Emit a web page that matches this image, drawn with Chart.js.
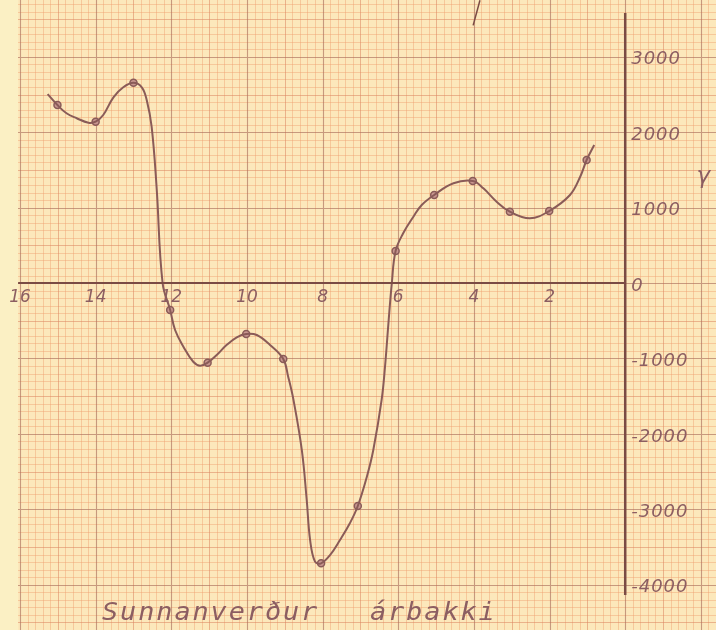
<!DOCTYPE html>
<html><head><meta charset="utf-8">
<script src="https://cdn.jsdelivr.net/npm/chart.js@4.4.1/dist/chart.umd.min.js"></script>
<style>html,body{margin:0;padding:0;background:#fbf0c4;} #c{display:block;}</style>
</head><body>
<canvas id="c" width="716" height="630"></canvas>
<script>
// measured points (distance along bank, gamma), positions as drawn
const pointX = [15.01, 14.0, 13.0, 12.03, 11.04, 10.02, 9.04, 8.04, 7.07, 6.07, 5.05, 4.03, 3.05, 2.01, 1.02];
const pointY = [2360, 2140, 2655, -357, -1056, -675, -1007, -3716, -2956, 425, 1168, 1353, 946, 955, 1632];
// hand-drawn smooth curve
const curveX = [15.27, 15.01, 14.77, 14.5, 14.19, 14.0, 13.8, 13.53, 13.27, 13.0, 12.78, 12.65, 12.52, 12.39, 12.23, 12.03, 11.9, 11.68, 11.42, 11.24, 11.04, 10.8, 10.54, 10.27, 10.02, 9.74, 9.39, 9.04, 8.91, 8.77, 8.55, 8.42, 8.33, 8.2, 8.04, 7.8, 7.54, 7.28, 7.07, 6.83, 6.66, 6.44, 6.35, 6.26, 6.17, 6.07, 5.87, 5.6, 5.38, 5.05, 4.54, 4.03, 3.75, 3.4, 3.05, 2.52, 2.01, 1.46, 1.19, 1.02, 0.82];
const curveY = [2505, 2360, 2251, 2185, 2126, 2140, 2228, 2463, 2596, 2655, 2596, 2427, 2073, 1278, 0, -357, -622, -844, -1043, -1096, -1056, -954, -821, -719, -675, -689, -821, -1007, -1242, -1550, -2213, -2876, -3407, -3694, -3716, -3605, -3407, -3185, -2956, -2567, -2213, -1550, -1109, -534, 0, 425, 660, 880, 1035, 1168, 1323, 1353, 1256, 1079, 946, 859, 955, 1168, 1410, 1632, 1831];
// axes drawn on the sheet
const hAxisX = [16.05, 0];
const hAxisY = [0, 0];
const vAxisX = [0, 0];
const vAxisY = [3580, -4136];
// stray pen stroke at the top edge
const strokeX = [3.84, 4.02];
const strokeY = [3750, 3417];
const xTickLabels = [16, 14, 12, 10, 8, 6, 4, 2];
const yTickLabels = [3000, 2000, 1000, 0, -1000, -2000, -3000, -4000];
const titleText = 'Sunnanverður árbakki';
const yName = 'γ';

const INK = '#8a5b58';
const AXIS = '#7a4b44';
const LABEL = '#8c5e62';
const FONT = "'DejaVu Sans', sans-serif";
const MONO = "'DejaVu Sans Mono', monospace";

const toXY = (xs, ys) => xs.map((x, i) => ({x: x, y: ys[i]}));

const paperPlugin = {
  id: 'paper',
  beforeDatasetsDraw(chart) {
    const ctx = chart.ctx, xs = chart.scales.x, ys = chart.scales.y;
    const W = chart.width, H = chart.height, L = 18;
    ctx.save();
    ctx.fillStyle = '#fce8bb';
    ctx.fillRect(L, 0, W - L, H);
    const styles = [
      ['rgba(240,160,112,0.44)', 1],
      ['rgba(220,136,100,0.56)', 1],
      ['rgba(172,112,92,0.66)', 1.1]
    ];
    for (let level = 0; level < 3; level++) {
      ctx.strokeStyle = styles[level][0];
      ctx.lineWidth = styles[level][1];
      ctx.beginPath();
      for (let i = -15; i <= 85; i++) {
        const v = i * 0.2;
        const lv = (i % 10 === 0) ? 2 : (i % 5 === 0 ? 1 : 0);
        if (lv !== level) continue;
        const px = Math.round(xs.getPixelForValue(v)) + 0.5;
        if (px < L || px > W) continue;
        ctx.moveTo(px, 0); ctx.lineTo(px, H);
      }
      for (let j = -47; j <= 39; j++) {
        const v = j * 100;
        const lv = (j % 10 === 0) ? 2 : (j % 5 === 0 ? 1 : 0);
        if (lv !== level) continue;
        const py = Math.round(ys.getPixelForValue(v)) + 0.5;
        if (py < 0 || py > H) continue;
        ctx.moveTo(L, py); ctx.lineTo(W, py);
      }
      ctx.stroke();
    }
    ctx.restore();
  },
  afterDatasetsDraw(chart) {
    const ctx = chart.ctx, xs = chart.scales.x, ys = chart.scales.y;
    const x0 = xs.getPixelForValue(0), y0 = ys.getPixelForValue(0);
    ctx.save();
    ctx.fillStyle = LABEL;
    ctx.font = 'italic 17px ' + FONT;
    ctx.textAlign = 'center';
    ctx.textBaseline = 'middle';
    xTickLabels.forEach(v => ctx.fillText(String(v), xs.getPixelForValue(v), y0 + 15));
    ctx.font = 'italic 18px ' + FONT;
    ctx.textAlign = 'left';
    ctx.letterSpacing = '1px';
    yTickLabels.forEach(v => ctx.fillText(String(v), x0 + 6, ys.getPixelForValue(v) + 3));
    ctx.letterSpacing = '0px';
    ctx.font = 'italic 23px ' + FONT;
    ctx.textAlign = 'center';
    ctx.fillText(yName, x0 + 78, ys.getPixelForValue(1400));
    // title, wide monospaced hand lettering
    ctx.font = 'italic 24px ' + MONO;
    ctx.textAlign = 'left';
    ctx.textBaseline = 'alphabetic';
    const sx = 1.12;
    const adv = ctx.measureText('n').width;
    const A = 18.1;
    const s = A / sx - adv;
    const ws = (268 - 13 * A) / sx;
    ctx.letterSpacing = s.toFixed(2) + 'px';
    ctx.wordSpacing = ws.toFixed(2) + 'px';
    ctx.translate(102, 620);
    ctx.scale(sx, 1);
    ctx.fillText(titleText, 0, 0);
    ctx.restore();
  }
};

new Chart(document.getElementById('c'), {
  type: 'scatter',
  data: {
    datasets: [
      {label: 'h-axis', data: toXY(hAxisX, hAxisY), showLine: true, borderColor: AXIS, borderWidth: 2, pointRadius: 0, clip: false},
      {label: 'v-axis', data: toXY(vAxisX, vAxisY), showLine: true, borderColor: AXIS, borderWidth: 2.5, pointRadius: 0, clip: false},
      {label: 'stroke', data: toXY(strokeX, strokeY), showLine: true, borderColor: AXIS, borderWidth: 1.5, pointRadius: 0, clip: false},
      {label: 'curve', data: toXY(curveX, curveY), showLine: true, borderColor: INK, borderWidth: 2, pointRadius: 0, tension: 0.4, clip: false},
      {label: 'points', data: toXY(pointX, pointY), showLine: false, pointRadius: 3.5, pointBackgroundColor: '#c7968f', pointBorderColor: INK, pointBorderWidth: 1.5, clip: false}
    ]
  },
  options: {
    responsive: false,
    animation: false,
    devicePixelRatio: 1,
    layout: {autoPadding: false, padding: {left: 20, right: 0, top: 4, bottom: 0}},
    plugins: {legend: {display: false}, tooltip: {enabled: false}, title: {display: false}},
    scales: {
      x: {type: 'linear', reverse: true, min: -2.4, max: 16.0, display: false},
      y: {type: 'linear', min: -4600, max: 3700, display: false}
    }
  },
  plugins: [paperPlugin]
});
</script>
</body></html>
